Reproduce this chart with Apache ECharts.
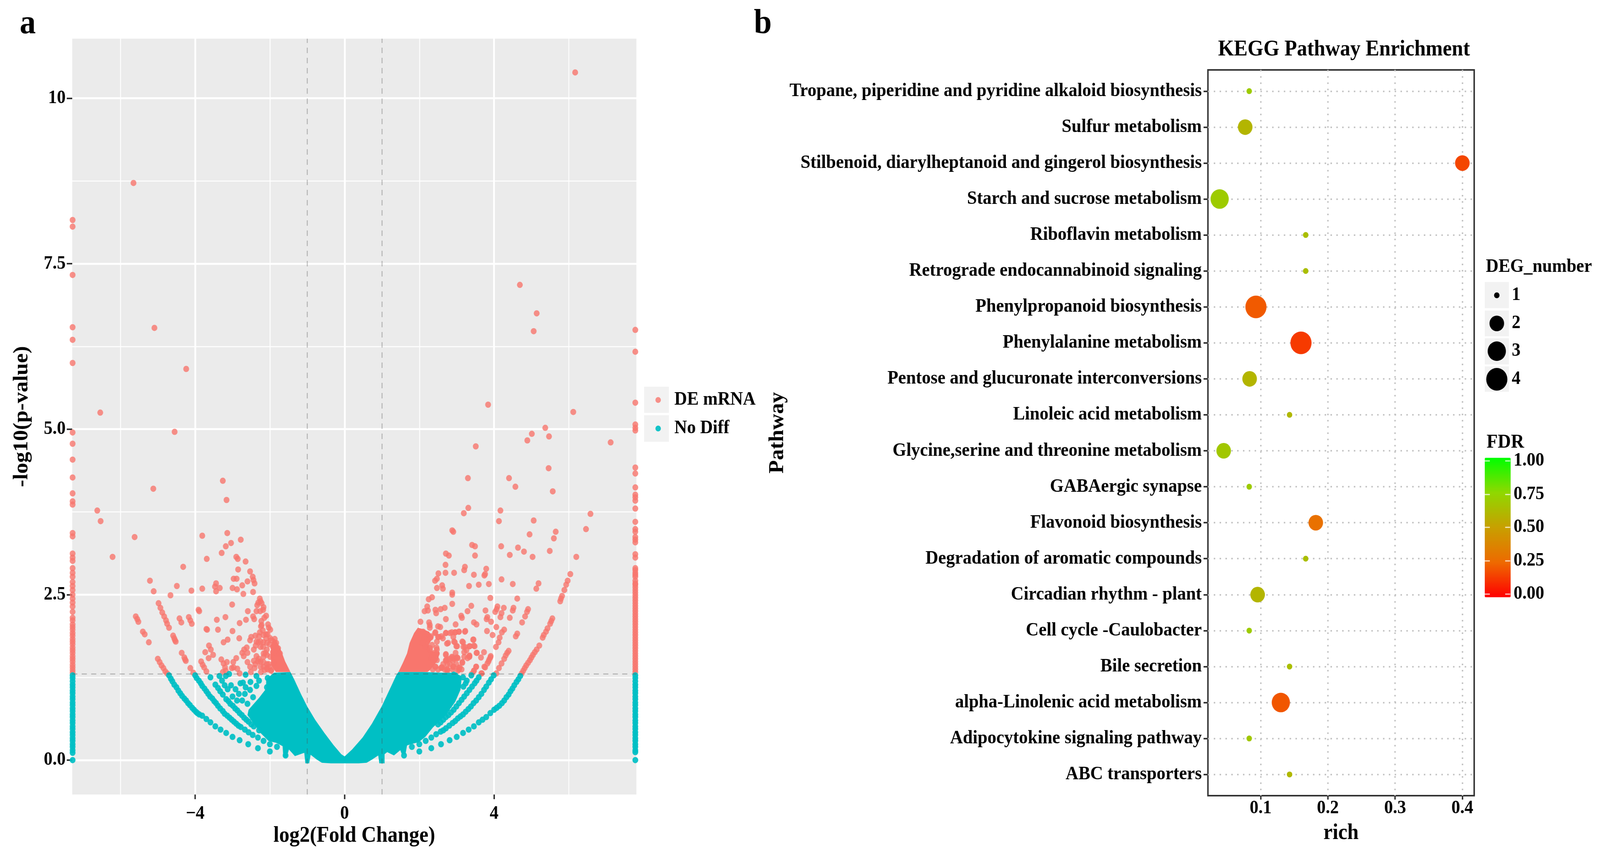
<!DOCTYPE html>
<html>
<head>
<meta charset="utf-8">
<style>html,body{margin:0;padding:0;background:#fff;overflow:hidden}#c{width:4387px;height:2194px;transform-origin:0 0}</style>
<script src="https://cdn.jsdelivr.net/npm/echarts@6/dist/echarts.min.js"></script>
</head>
<body>
<div id="c"></div>
<script>
// ---------- Panel a: volcano plot (log2 fold change, -log10 p) ----------
const xTicksA = [-4, 0, 4];
const yTicksA = [0, 2.5, 5, 7.5, 10];
const xMinorA = [-6, -2, 2, 6];
const yMinorA = [1.25, 3.75, 6.25, 8.75];
const foldCut = [-1, 1];
const pCut = 1.3;
const edgeLeft = -7.28;
const edgeRight = 7.78;

const deEdgeLeftY = [8.16,8.06,7.33,6.54,6.35,6.0,4.95,4.78,4.54,4.27,4.03,3.91,3.86,3.43,3.38,3.12,3.06,3.01,2.90,2.83,2.77,2.69,2.63,2.57,2.5,2.44,2.38,2.32,2.24,2.15,2.11,2.05,2.01,1.97,1.92,1.88,1.83,1.79,1.75,1.70,1.66,1.62,1.57,1.53,1.49,1.44,1.40,1.36,1.32];
const deEdgeRightY = [6.50,6.17,5.40,5.07,5.02,4.98,4.42,4.33,4.12,4.01,3.97,3.92,3.80,3.60,3.49,3.45,3.37,3.33,3.29,3.11,3.06,2.90,2.87,2.83,2.80,2.77,2.71,2.67,2.65,2.61,2.57,2.53,2.49,2.45,2.41,2.37,2.33,2.29,2.25,2.21,2.17,2.13,2.09,2.05,2.01,1.97,1.93,1.89,1.85,1.81,1.77,1.73,1.69,1.65,1.61,1.57,1.53,1.49,1.45,1.41,1.37,1.33];
const noDiffEdgeLeftY = [1.28,1.24,1.19,1.14,1.10,1.05,1.01,0.96,0.92,0.87,0.83,0.78,0.74,0.69,0.65,0.60,0.56,0.51,0.47,0.42,0.38,0.33,0.29,0.24,0.20,0.15,0.11,0];
const noDiffEdgeRightY = [1.28,1.24,1.19,1.14,1.10,1.05,1.01,0.96,0.92,0.87,0.83,0.78,0.74,0.69,0.65,0.60,0.56,0.51,0.47,0.42,0.38,0.33,0.29,0.24,0.20,0.15,0.12,0];

const deLeft = [[-5.65,8.72],[-6.54,5.25],[-5.09,6.53],[-4.24,5.91],[-4.55,4.96],[-3.26,4.22],[-3.16,3.93],[-5.12,4.10],[-6.62,3.77],[-6.53,3.61],[-5.62,3.37],[-6.21,3.07],[-3.81,3.39],[-3.14,3.43],[-3.04,3.28],[-2.78,3.33],[-3.18,3.23],[-3.29,3.13],[-3.69,3.04],[-2.90,3.07],[-2.86,3.04],[-2.65,3.00],[-4.32,2.92],[-2.85,2.88],[-2.53,2.85],[-2.46,2.77],[-2.97,2.74],[-2.89,2.74],[-2.44,2.72],[-2.41,2.67],[-2.60,2.70],[-5.21,2.71],[-3.44,2.67],[-3.47,2.62],[-3.34,2.60],[-3.44,2.55],[-2.74,2.64],[-3.00,2.60],[-2.88,2.58],[-3.81,2.59],[-4.49,2.63],[-4.10,2.56],[-5.11,2.55],[-4.66,2.49],[-2.71,2.51],[-2.45,2.54],
[-4.98,2.37],[-4.93,2.30],[-4.88,2.23],[-4.83,2.17],[-4.78,2.11],[-4.75,2.06],[-4.70,2.00],[-5.59,2.17],[-5.55,2.13],[-5.52,2.09],[-5.40,1.94],[-5.35,1.90],[-5.24,1.78],[-4.59,1.88],[-4.56,1.84],[-4.54,1.81],[-4.52,1.79],[-4.36,1.62],[-4.29,1.55],[-4.27,1.52],[-4.25,1.50],[-5.00,1.53],[-4.95,1.48],[-4.90,1.43],[-4.85,1.39],[-4.80,1.34],[-4.75,1.31],[-4.13,1.39],[-4.05,1.32],
[-4.42,2.14],[-4.37,2.08],[-4.17,2.16],[-4.13,2.11],[-4.09,2.06],[-3.91,2.27],[-3.89,2.25],[-3.70,1.98],[-3.68,1.97],[-3.42,2.12],[-3.19,2.16],[-3.39,1.97],[-3.00,1.95],[-2.81,2.07],[-2.64,2.12],[-2.59,2.25],[-3.01,2.35],[-2.45,2.17],[-2.42,2.13],[-2.82,1.84],[-3.13,1.82],[-3.24,1.78],[-3.63,1.73],[-3.58,1.67],[-3.73,1.63],[-3.52,1.59],[-3.64,1.54],[-3.84,1.49],[-3.80,1.44],[-3.76,1.40],[-3.70,1.34],[-3.30,1.52],[-3.24,1.46],[-3.15,1.48],[-3.20,1.40],[-3.26,1.33],[-2.90,1.54],[-2.98,1.48],[-3.02,1.39],[-2.97,1.40],[-2.87,1.38],[-2.81,1.31],[-3.18,1.35],
[-2.62,1.70],[-2.69,1.67],[-2.74,1.62],[-2.60,1.62],[-2.70,1.57],[-2.50,1.86],[-2.53,1.81],[-2.39,1.88],[-2.43,1.67],[-2.38,1.73],[-2.36,1.57],[-2.43,1.50],[-2.60,1.48],[-2.53,1.41],[-2.51,1.33],[-2.41,1.39],[-2.17,1.56],[-2.25,1.49],[-2.17,1.48],[-2.24,1.33],[-2.08,1.39],[-1.99,1.56],[-2.25,2.40],[-2.27,2.44],[-2.31,2.38],[-2.22,2.37],[-2.34,2.34],[-2.17,2.31],[-2.18,2.27],[-2.26,2.25],[-2.36,2.25],[-2.10,2.18],[-2.15,2.15],[-2.23,2.10],[-2.24,2.02],[-2.05,2.05],[-2.03,2.00],[-1.99,1.97],[-2.27,1.93],[-2.17,1.89],[-2.06,1.90],[-2.29,1.87],[-2.10,1.84],[-1.99,1.84],[-1.87,1.83],[-2.31,1.78],[-2.17,1.78],[-2.25,1.71],[-2.08,1.67],[-2.01,1.75],[-1.92,1.71],[-1.83,1.77],[-1.78,1.69],[-1.83,1.61],[-1.73,1.61],[-2.30,1.53],[-2.12,1.62],[-2.03,1.45],[-2.14,1.36],[-1.96,1.36],
[-2.08,1.45],[-2.01,1.41],[-1.90,1.47],[-2.32,1.49],[-2.25,1.41],[-2.39,1.45],[-2.17,1.41],[-2.08,1.59],[-1.92,1.63],[-2.18,1.71],[-2.36,1.79],[-2.25,1.79],[-2.08,1.77],[-1.97,1.81],[-2.10,1.90],[-2.19,1.96],[-2.22,2.04],[-2.17,1.61],[-2.06,1.37],[-1.97,1.35]];

const deRight = [[6.17,10.39],[4.69,7.18],[5.14,6.75],[5.06,6.48],[3.84,5.37],[6.12,5.26],[5.37,5.02],[5.01,4.93],[4.89,4.83],[5.47,4.89],[7.12,4.80],[3.51,4.74],[5.46,4.41],[3.30,4.26],[4.40,4.26],[4.57,4.13],[5.57,4.06],[3.31,3.81],[3.19,3.73],[4.17,3.77],[6.58,3.72],[4.13,3.61],[5.06,3.62],[6.46,3.49],[2.88,3.47],[2.91,3.45],[5.65,3.45],[4.95,3.41],[5.60,3.35],[3.41,3.25],[3.49,3.23],[4.19,3.23],[4.64,3.21],[4.80,3.15],[5.49,3.16],[2.71,3.12],[2.79,3.09],[3.49,3.09],[4.42,3.10],[5.03,3.07],[6.20,3.07],[2.70,2.95],[3.22,2.92],[3.20,2.87],[3.79,2.89],[6.04,2.81],[2.51,2.82],[2.70,2.83],[2.93,2.83],[3.46,2.80],[3.74,2.79],[3.76,2.81],[4.20,2.73],[5.97,2.71],[2.42,2.71],[2.47,2.74],[5.93,2.65],[5.19,2.67],[3.33,2.63],[3.59,2.65],[3.86,2.66],[4.50,2.66],[2.47,2.60],[2.61,2.64],[2.63,2.59],[5.13,2.59],[5.88,2.57],[2.88,2.53],[2.88,2.50],[5.82,2.48],[5.79,2.44],[5.77,2.40],[3.90,2.45],[4.62,2.44],[2.34,2.46],[2.25,2.43],[2.88,2.36],[3.39,2.33],[4.09,2.32],[4.07,2.28],[4.26,2.30],[4.52,2.30],[4.50,2.26],[4.91,2.28],[4.88,2.24],[2.21,2.32],[2.14,2.25],[2.23,2.26],[2.43,2.27],[2.57,2.28],[2.68,2.30],[2.45,2.22],[3.29,2.25],[3.77,2.26],[4.03,2.24],[4.20,2.22],[3.12,2.18],[3.14,2.15],[2.71,2.13],[3.82,2.16],[3.80,2.13],[4.17,2.16],[4.42,2.15],[4.83,2.17],[5.56,2.14],[5.53,2.10],[5.50,2.06],[3.92,2.09],[4.75,2.08],[2.03,2.09],[2.26,2.08],[2.28,2.04],[2.28,2.00],[3.46,2.08],[3.53,2.05],[2.97,2.05],[2.50,2.02],[2.56,2.01],[4.06,2.01],[4.27,1.97],[4.21,1.93],[3.81,1.95],[5.43,1.99],[5.39,1.94],[5.33,1.89],[5.30,1.85],[3.96,1.89],[4.62,1.91],[4.58,1.87],[5.21,1.73],[4.15,1.85],[4.12,1.78],[4.05,1.71],
[4.06,1.31],[4.13,1.39],[4.20,1.46],[4.27,1.53],[4.31,1.58],[4.35,1.62],[4.39,1.65],[4.74,1.31],[4.78,1.35],[4.82,1.39],[4.86,1.43],[4.91,1.47],[4.96,1.51],[5.00,1.55],[5.04,1.59],[5.09,1.63],[5.14,1.67],[3.40,1.30],[3.46,1.35],[3.52,1.41],[3.67,1.31],[3.74,1.41],[3.82,1.46],[3.87,1.52],[3.91,1.57],[3.73,1.63],[3.54,1.62],[3.35,1.72],[3.44,1.82],[3.46,1.73],[3.23,1.95],[3.06,1.94],[2.96,1.93],[2.87,1.93],[2.71,1.92],[2.59,1.87],[2.52,1.86],[2.43,1.93],[2.31,1.87],[2.74,1.76],[2.93,1.79],[2.99,1.72],[3.15,1.79],[3.18,1.71],[3.26,1.66],[3.34,1.58],[3.15,1.48],[2.99,1.54],[2.87,1.56],[2.71,1.60],[2.71,1.50],[3.06,1.37],[2.90,1.41],[2.74,1.37],[2.59,1.39],[2.46,1.70],[2.34,1.74],[2.40,1.62],[2.28,1.66],[2.31,1.54],[2.22,1.83],
[2.10,1.94],[2.19,1.90],[2.30,1.85],[2.12,1.85],[2.09,1.77],[2.15,1.71],[2.29,1.69],[2.47,1.67],[2.47,1.61],[2.36,1.59],[2.47,1.51],[2.38,1.51],[2.43,1.41],[2.36,1.37],[2.59,1.40],[2.75,1.37],[2.92,1.41],[3.06,1.39],[2.89,1.55],[2.75,1.52],[2.71,1.59],[3.01,1.55],[3.15,1.47],[3.20,1.56],[3.34,1.56],[2.42,1.92],[2.50,1.86],[2.63,1.84],[2.47,1.79],[2.77,1.77],[2.95,1.78],[3.01,1.72],[2.71,1.92],[2.82,1.92],[2.91,1.86],[2.96,1.93],[3.06,1.94],[3.22,1.94],[3.17,1.78],[3.22,1.71],[3.34,1.72],[3.48,1.72],[3.45,1.82],[3.53,1.62],[3.65,1.55],[3.20,1.63],[2.97,1.62],[3.90,1.55],[3.85,1.49],[3.76,1.40],[3.66,1.31],[3.52,1.41],[3.46,1.35],
[2.71,1.51],[2.82,1.53],[2.92,1.53],[3.03,1.54],[2.64,1.45],[2.82,1.45],[2.99,1.45],[2.61,1.40],[2.75,1.35],[2.89,1.37],[3.08,1.40],[3.03,1.35],[2.43,1.41],[2.50,1.37],[2.89,1.50],[2.75,1.45],[2.68,1.37],[3.13,1.37],[3.34,1.57],[3.29,1.54]];

const noDiffLeft = [[-4.70,1.28],[-4.61,1.19],[-4.50,1.10],[-4.40,1.01],[-4.29,0.93],[-4.19,0.86],[-4.08,0.79],[-3.98,0.73],[-3.89,0.69],[-3.81,0.67],[-3.70,0.62],[-3.59,0.57],[-3.46,0.51],[-3.32,0.46],[-3.17,0.41],[-3.00,0.35],[-2.81,0.30],[-2.58,0.24],[-2.32,0.18],[-2.00,0.13],[-1.58,0.07],
[-4.65,1.23],[-4.56,1.14],[-4.45,1.05],[-4.35,0.97],[-4.24,0.90],[-4.14,0.83],[-4.03,0.76],[-3.94,0.71],
[-4.00,1.28],[-3.90,1.20],[-3.81,1.12],[-3.70,1.04],[-3.60,0.96],[-3.49,0.89],[-3.39,0.82],[-3.26,0.74],[-3.14,0.67],[-3.02,0.61],[-2.90,0.55],[-2.78,0.50],[-2.67,0.46],[-2.57,0.42],[-2.46,0.38],[-2.32,0.34],[-2.17,0.29],[-2.00,0.24],[-1.81,0.20],
[-3.96,1.24],[-3.85,1.16],[-3.75,1.08],[-3.65,1.00],[-3.54,0.93],[-3.44,0.86],[-3.33,0.78],[-3.21,0.70],[-3.08,0.64],[-2.96,0.58],[-2.84,0.52],
[-3.17,0.92],[-3.06,0.85],[-2.93,0.78],[-2.81,0.71],[-2.69,0.64],[-2.57,0.58],[-2.43,0.51],[-2.29,0.45],
[-3.11,0.89],[-2.99,0.82],[-2.87,0.75],[-2.75,0.68],[-2.63,0.61],[-2.50,0.54],
[-3.46,1.14],[-3.39,1.09],[-3.33,1.04],[-3.26,0.99],[-3.59,1.25],[-3.35,1.27],[-3.28,1.20],[-3.21,1.13],[-3.13,1.07],[-3.18,1.27],[-3.09,1.30],[-3.04,1.13],[-3.00,0.96],[-2.79,1.16],[-2.72,1.17],[-2.65,1.10],[-2.52,1.18],[-2.65,1.29],[-2.36,1.27],[-2.29,1.20],[-2.08,1.10],[-2.92,1.07],[-2.83,1.00],[-2.88,0.90],[-2.67,1.00],[-2.53,1.06],[-2.36,1.12],[-2.06,1.24],[-2.74,0.90],[-2.60,0.85],[-2.45,0.95]];

const noDiffRight = [[4.70,1.27],[4.60,1.18],[4.49,1.08],[4.39,0.99],[4.27,0.90],[4.14,0.82],[4.00,0.76],[3.90,0.71],[3.79,0.65],[3.69,0.61],[3.59,0.57],[3.46,0.51],[3.32,0.46],[3.17,0.41],[3.00,0.35],[2.81,0.30],[2.58,0.24],[2.32,0.18],[2.00,0.13],[1.59,0.07],
[4.65,1.22],[4.54,1.13],[4.44,1.04],[4.33,0.95],[4.21,0.86],[4.07,0.79],
[3.99,1.28],[3.86,1.17],[3.73,1.06],[3.59,0.95],[3.45,0.86],[3.31,0.77],[3.17,0.69],[3.03,0.63],[2.89,0.56],[2.71,0.48],[2.57,0.43],[2.45,0.39],[2.32,0.34],[2.17,0.29],[2.00,0.24],[1.80,0.20],
[3.92,1.22],[3.79,1.11],[3.66,1.00],[3.52,0.90],[3.38,0.81],[3.24,0.73],[3.10,0.66],[2.96,0.59],[2.80,0.52],[2.64,0.45],
[3.59,1.25],[3.48,1.16],[3.34,1.06],[3.20,0.96],[3.06,0.86],[2.92,0.76],[2.78,0.68],[2.64,0.61],[2.50,0.54],
[3.53,1.20],[3.41,1.11],[3.27,1.01],[3.13,0.91],[2.99,0.81],[2.85,0.72],[2.71,0.65],[2.57,0.57],
[3.24,1.16],[3.18,1.11],[3.17,1.25],[3.39,1.28],[2.92,1.29],[3.05,1.24],[3.27,1.20]];

const cloudNoDiff = [[-1.45,1.33],[-1.35,1.22],[-1.17,1.00],[-1.00,0.81],[-0.79,0.61],[-0.54,0.41],[-0.30,0.23],[-0.09,0.09],[0,0.055],[0.20,0.16],[0.48,0.34],[0.73,0.55],[1.00,0.82],[1.25,1.12],[1.39,1.29],[1.44,1.33],[2.09,1.33],[2.64,1.32],[3.01,1.32],[3.13,1.22],[3.10,1.06],[2.96,0.88],[2.71,0.68],[2.54,0.59],[2.36,0.49],[2.16,0.35],[1.98,0.27],[1.77,0.24],[1.67,0.22],[1.63,0.09],[1.53,0.09],[1.49,0.15],[1.32,0.07],[1.14,0.12],[1.07,0.09],[1.07,-0.05],[0.93,-0.05],[0.90,0.07],[0.74,0.01],[0.59,-0.04],[0.38,-0.05],[-0.37,-0.05],[-0.61,-0.04],[-0.75,0.01],[-0.91,0.08],[-0.95,-0.05],[-1.05,-0.05],[-1.08,0.11],[-1.33,0.06],[-1.49,0.16],[-1.55,0.04],[-1.64,0.04],[-1.66,0.21],[-1.83,0.26],[-2.04,0.29],[-2.25,0.41],[-2.43,0.55],[-2.60,0.68],[-2.57,0.76],[-2.29,0.94],[-2.10,1.08],[-2.10,1.22],[-1.89,1.32]];
const wedgeDeLeft = [[-1.45,1.33],[-1.59,1.49],[-1.71,1.67],[-1.83,1.81],[-1.92,1.85],[-1.97,1.71],[-1.98,1.55],[-1.95,1.42],[-1.84,1.33]];
const wedgeDeRight = [[1.44,1.33],[1.56,1.47],[1.67,1.61],[1.74,1.77],[1.86,1.92],[1.96,2.00],[2.09,1.98],[2.26,1.94],[2.36,1.85],[2.26,1.75],[2.29,1.65],[2.54,1.63],[2.50,1.51],[2.30,1.37],[2.22,1.33]];

// ---------- Panel b: KEGG enrichment ----------
const pathways = ['ABC transporters','Adipocytokine signaling pathway','alpha-Linolenic acid metabolism','Bile secretion','Cell cycle -Caulobacter','Circadian rhythm - plant','Degradation of aromatic compounds','Flavonoid biosynthesis','GABAergic synapse','Glycine,serine and threonine metabolism','Linoleic acid metabolism','Pentose and glucuronate interconversions','Phenylalanine metabolism','Phenylpropanoid biosynthesis','Retrograde endocannabinoid signaling','Riboflavin metabolism','Starch and sucrose metabolism','Stilbenoid, diarylheptanoid and gingerol biosynthesis','Sulfur metabolism','Tropane, piperidine and pyridine alkaloid biosynthesis'];
const rich =      [0.143,0.083,0.130,0.143,0.083,0.0955,0.167,0.182,0.083,0.045,0.143,0.0836,0.160,0.093,0.167,0.167,0.039,0.400,0.077,0.083];
const degNumber = [1,1,3,1,1,2,1,2,1,2,1,2,4,4,1,1,3,2,2,1];
const fdr =       [0.61,0.68,0.19,0.64,0.70,0.60,0.64,0.27,0.70,0.68,0.61,0.60,0.12,0.20,0.64,0.64,0.70,0.15,0.60,0.70];
const xTicksB = [0.1,0.2,0.3,0.4];
const fdrTicks = [0,0.25,0.5,0.75,1];
const degLevels = [1,2,3,4];

const font = '"Liberation Serif","Times New Roman",serif';
const ink = '#000';
const degPx = {1:15, 2:40, 3:50, 4:58};
const txt = (size) => ({fontFamily:font, fontWeight:'bold', fontSize:size, color:ink});
const T = (text,x,y,size,align,rot) => ({type:'text', z:20, x, y, rotation:rot||0, style:{text, fill:ink, font:'bold '+size+'px '+font, textAlign:align||'left', textVerticalAlign:'middle'}});
const R = (x,y,w,h,fill,z) => ({type:'rect', z:z||10, shape:{x,y,width:w,height:h}, style:{fill}});
const C = (x,y,d,fill) => ({type:'circle', z:15, shape:{cx:x,cy:y,r:d/2}, style:{fill}});

function blob(name, outline, color, z, extra){
  return Object.assign({type:'custom', name, xAxisIndex:0, yAxisIndex:0, z, silent:true, data:outline, encode:{x:0,y:1},
    clip:true, animation:false,
    renderItem:(p,api)=> p.dataIndex===0 ? {type:'polygon', shape:{points:outline.map(q=>api.coord(q))}, style:{fill:color}} : null}, extra||{});
}

const edgeAt = (x,ys)=>ys.map(y=>[x,y]);
const deAll = deLeft.concat(deRight, edgeAt(edgeLeft,deEdgeLeftY), edgeAt(edgeRight,deEdgeRightY));
const ndAll = noDiffLeft.concat(noDiffRight, edgeAt(edgeLeft,noDiffEdgeLeftY), edgeAt(edgeRight,noDiffEdgeRightY));

const minorLines = xMinorA.map(v=>({xAxis:v})).concat(yMinorA.map(v=>({yAxis:v})));
const cutLines = foldCut.map(v=>({xAxis:v})).concat([{yAxis:pCut}]);

const gfx = [
  T('a',54,62,88),T('b',2067,62,88),
  R(1766,990,68,67,'#F2F2F2'),R(1766,1063,68,68,'#F2F2F2'),
  T('DEG_number',4074,684,48),
  R(4071,722,66,67,'#F2F2F2'),R(4071,795,66,66,'#F2F2F2'),R(4071,866,66,67,'#F2F2F2'),R(4071,938,66,65,'#F2F2F2'),
  T('FDR',4076,1133,50)
];
const degY = [756,828,899,971];
degLevels.forEach((d,i)=>{gfx.push(C(4104,degY[i],degPx[d],'#000'));gfx.push(T(String(d),4145,degY[i],48));});
const fdrY = [1521,1436,1350,1266,1180];
fdrTicks.forEach((v,i)=>{
  gfx.push(T(v.toFixed(2),4150,fdrY[i],48));
  gfx.push(R(4071,fdrY[i]-1.5,14,3,'rgba(255,255,255,0.75)',18));
  gfx.push(R(4127,fdrY[i]-1.5,14,3,'rgba(255,255,255,0.75)',18));
});

const option = {
  backgroundColor:'#fff',
  animation:false,
  title:{text:'KEGG Pathway Enrichment', left:3680, top:123, textAlign:'center', textVerticalAlign:'middle', textStyle:txt(56)},
  legend:{left:1792, top:995, orient:'vertical', itemWidth:15, itemHeight:15, itemGap:25, selectedMode:false, z:16,
    data:[{name:'DE mRNA',icon:'circle'},{name:'No Diff',icon:'circle'}],
    textStyle:Object.assign(txt(48),{padding:[0,0,0,32]})},
  grid:[
    {left:198, top:99, width:1547, height:1935, show:true, backgroundColor:'#EBEBEB', borderWidth:0, containLabel:false},
    {left:3312, top:179, width:730, height:1858, show:true, backgroundColor:'#fff', borderColor:'#333', borderWidth:4, containLabel:false}
  ],
  xAxis:[
    {type:'value', gridIndex:0, min:-7.29, max:7.81, name:'log2(Fold Change)', nameLocation:'middle', nameGap:65, nameTextStyle:txt(56),
     axisLine:{show:false,onZero:false}, axisTick:{length:12, lineStyle:{width:4,color:'#333'}, customValues:xTicksA},
     axisLabel:{customValues:xTicksA, margin:26, formatter:v=>v<0?'\u2212'+Math.abs(v):String(v), ...txt(48)},
     splitLine:{show:true, lineStyle:{color:'#fff',width:5}}},
    {type:'value', gridIndex:1, min:0.0216, max:0.4176, name:'rich', nameLocation:'middle', nameGap:69, nameTextStyle:txt(56),
     axisLine:{show:false,onZero:false}, axisTick:{length:10, lineStyle:{width:4,color:'#333'}, customValues:xTicksB},
     axisLabel:{customValues:xTicksB, margin:9, formatter:v=>v.toFixed(1), ...txt(48)},
     splitLine:{show:true, lineStyle:{color:'#c4c4c4',width:4,type:[4,12]}}}
  ],
  yAxis:[
    {type:'value', gridIndex:0, min:-0.52, max:10.9, name:'-log10(p-value)', nameLocation:'middle', nameGap:109, nameRotate:90, nameTextStyle:txt(56),
     axisLine:{show:false,onZero:false}, axisTick:{length:15, lineStyle:{width:4,color:'#333'}, customValues:yTicksA},
     axisLabel:{customValues:yTicksA, margin:18, formatter:v=>v===10?'10':v.toFixed(1), ...txt(48)},
     splitLine:{show:true, lineStyle:{color:'#fff',width:5}}},
    {type:'value', gridIndex:1, min:-0.59, max:19.59, name:'Pathway', nameLocation:'middle', nameGap:1112, nameRotate:90, nameTextStyle:txt(56),
     axisLine:{show:false,onZero:false}, axisTick:{length:12, lineStyle:{width:4,color:'#333'}, customValues:pathways.map((_,i)=>i)},
     axisLabel:{customValues:pathways.map((_,i)=>i), margin:17, formatter:v=>pathways[v], ...txt(48.5)},
     splitLine:{show:true, lineStyle:{color:'#c4c4c4',width:4,type:[4,12]}}}
  ],
  visualMap:{type:'continuous', seriesIndex:6, dimension:2, min:-0.023, max:1.023, left:4071, top:1172, padding:0, itemWidth:71, itemHeight:357,
    calculable:false, realtime:false, text:null, show:true, hoverLink:false,
    inRange:{color:['#FF0000','#EE6A00','#C8A000','#90D800','#00FF00']}, textStyle:txt(1)},
  graphic:gfx,
  series:[
    blob('wedge left',wedgeDeLeft,'#F8766D',3,{markLine:{silent:true,symbol:'none',z:1,label:{show:false},animation:false,lineStyle:{color:'#fff',width:2.5,type:'solid'},data:minorLines}}),
    blob('wedge right',wedgeDeRight,'#F8766D',3),
    {type:'scatter', name:'DE mRNA', xAxisIndex:0, yAxisIndex:0, z:4, symbolSize:16, data:deAll, itemStyle:{color:'#F8766D',opacity:0.8}, clip:true, animation:false},
    blob('cloud',cloudNoDiff,'#00BFC4',5),
    {type:'scatter', name:'No Diff', xAxisIndex:0, yAxisIndex:0, z:6, symbolSize:16, data:ndAll, itemStyle:{color:'#00BFC4',opacity:0.92}, clip:true, animation:false},
    {type:'scatter', name:'cuts', xAxisIndex:0, yAxisIndex:0, z:7, data:[], animation:false,
     markLine:{silent:true,symbol:'none',z:7,label:{show:false},animation:false,lineStyle:{color:'rgba(80,80,80,0.32)',width:3,type:[14,12]},data:cutLines}},
    {type:'scatter', name:'KEGG', xAxisIndex:1, yAxisIndex:1, z:5, animation:false, itemStyle:{opacity:1},
     data:pathways.map((_,i)=>[rich[i],i,fdr[i],degNumber[i]]),
     symbolSize:d=>degPx[d[3]]}
  ]
};
// The browser window is narrower than the 4387px layout: fit the whole figure into it.
const box = document.getElementById('c');
box.style.transform = 'scale('+(innerWidth/4387)+','+(innerHeight/2194)+')';
const chart = echarts.init(box,null,{renderer:'canvas',width:4387,height:2194});
chart.setOption(option);
</script>
</body>
</html>
